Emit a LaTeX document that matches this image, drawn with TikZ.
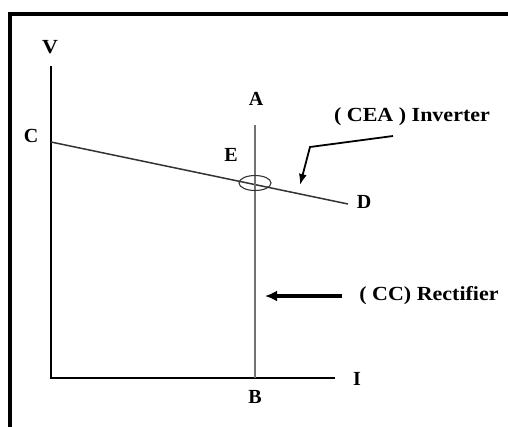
\documentclass[tikz,border=0pt]{standalone}
\usepackage{fontspec}
\setmainfont{Liberation Serif}
\usetikzlibrary{arrows.meta,shapes.geometric}
\begin{document}
\begin{tikzpicture}[x=1pt,y=-1pt,
  lbl/.style={font=\fontsize{20}{22}\selectfont\bfseries, inner sep=0pt},
  axis/.style={line width=1.8pt, black},
  ptr/.style={line width=1.8pt, -{Latex[length=11pt,width=8pt]}}]
\useasboundingbox (0,0) rectangle (508,426);
% frame
\draw[line width=3.5pt] (10,428) -- (10,14) -- (510,14);
% coordinates
\coordinate (O) at (51,378);
\coordinate (Vtop) at (51,66);
\coordinate (Iend) at (335,378);
\coordinate (Atop) at (255,125);
\coordinate (Bbot) at (255,378);
\coordinate (Cpt) at (51,142);
\coordinate (Dpt) at (348,204);
% labels
\node[lbl] (V) at (50,47) {\scalebox{1.1}[1]{V}};
\node[lbl] (I) at (357,379) {I};
\node[lbl] (A) at (256,99) {A};
\node[lbl] (B) at (255,397) {B};
\node[lbl] (C) at (31,136) {C};
\node[lbl] (D) at (364,202) {D};
\node[lbl] (E) at (231,155) {E};
\node[lbl] (inv) at (412,117) {\scalebox{1.1}[1]{( CEA ) Inverter}};
\node[lbl] (rect) at (429,296) {\scalebox{1.1}[1]{( CC) Rectifier}};
% axes
\draw[axis] (Vtop) -- (O) -- (Iend);
% CD line
\draw[line width=1.5pt, black!80] (Cpt) -- (Dpt);
% AB line
\draw[line width=2.2pt, black!55] (Atop) -- (Bbot);
% ellipse at E
\node[draw, ellipse, minimum width=32pt, minimum height=15pt, inner sep=0pt, line width=1.1pt, black!80] (ell) at (255,183) {};
% inverter pointer
\coordinate (i1) at (393,136);
\coordinate (i2) at (310,147);
\coordinate (i3) at (300,185);
\draw[ptr] (i1) -- (i2) -- (i3);
% rectifier pointer
\coordinate (r1) at (342,296);
\coordinate (r2) at (265,296);
\draw[line width=4pt, -{Latex[length=12pt,width=11pt]}] (r1) -- (r2);
\end{tikzpicture}
\end{document}
